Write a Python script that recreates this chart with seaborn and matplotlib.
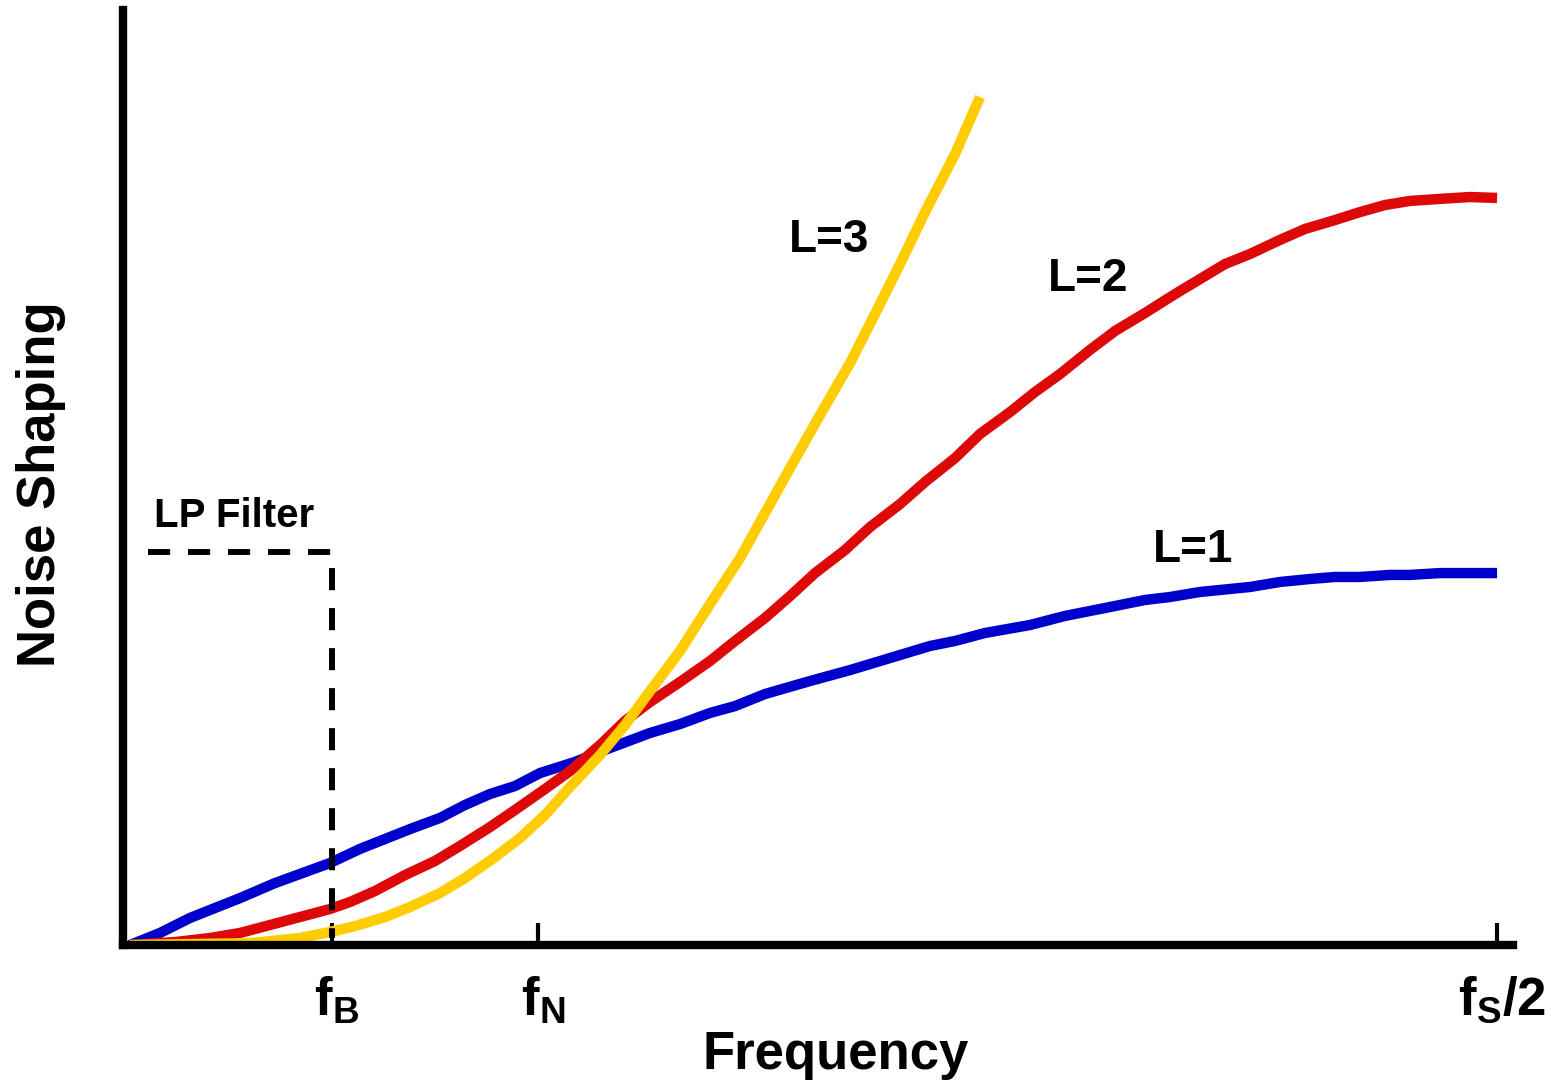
import matplotlib
matplotlib.use("Agg")
import matplotlib.pyplot as plt
import matplotlib.transforms as mtransforms
import seaborn as sns
import numpy as np

# ---------------- data (frequency as fraction of fs, noise-shaping magnitude) -------------
l1_x = [0.00244, 0.01336, 0.02428, 0.04248, 0.05522, 0.07523, 0.08615, 0.10435, 0.11527,
        0.12437, 0.13347, 0.14257, 0.15167, 0.16441, 0.17715, 0.19171, 0.20263, 0.21355,
        0.22265, 0.23357, 0.24995, 0.26450, 0.27906, 0.29362, 0.30272, 0.31364, 0.33002,
        0.34276, 0.35914, 0.37188, 0.38098, 0.39190, 0.41010, 0.42101, 0.43194, 0.44103,
        0.45013, 0.46105, 0.46833, 0.47925, 0.50000]
l1_y = [0.0, 0.065, 0.146, 0.253, 0.334, 0.442, 0.518, 0.625, 0.685,
        0.755, 0.814, 0.857, 0.927, 0.987, 1.062, 1.143, 1.191, 1.251,
        1.288, 1.353, 1.423, 1.482, 1.547, 1.612, 1.639, 1.682, 1.725,
        1.774, 1.822, 1.860, 1.876, 1.903, 1.930, 1.957, 1.973, 1.984,
        1.984, 1.995, 1.995, 2.005, 2.005]

l2_x = [0.00244, 0.01882, 0.03156, 0.04248, 0.05340, 0.06432, 0.07523, 0.08251, 0.09161,
        0.10253, 0.11345, 0.12255, 0.13347, 0.14257, 0.15349, 0.16259, 0.17351, 0.18261,
        0.19171, 0.20263, 0.21355, 0.22265, 0.23357, 0.24267, 0.25177, 0.26268, 0.27178,
        0.28270, 0.29180, 0.30272, 0.31182, 0.32274, 0.33184, 0.34094, 0.35186, 0.36096,
        0.37188, 0.38280, 0.39190, 0.40100, 0.41010, 0.42101, 0.43012, 0.44103, 0.45013,
        0.45923, 0.46833, 0.47925, 0.49017, 0.50000]
l2_y = [0.0, 0.016, 0.038, 0.065, 0.108, 0.151, 0.194, 0.232, 0.291,
        0.377, 0.453, 0.534, 0.636, 0.728, 0.841, 0.938, 1.078, 1.208,
        1.310, 1.418, 1.531, 1.639, 1.763, 1.881, 2.005, 2.129, 2.253,
        2.377, 2.496, 2.625, 2.755, 2.873, 2.981, 3.078, 3.208, 3.310,
        3.407, 3.509, 3.590, 3.671, 3.725, 3.801, 3.860, 3.908, 3.951,
        3.989, 4.011, 4.022, 4.032, 4.027]

l3_x = [0.00244, 0.04612, 0.06432, 0.07523, 0.08433, 0.09525, 0.10435, 0.11527, 0.12437,
        0.13529, 0.14439, 0.15349, 0.16259, 0.17351, 0.18261, 0.19171, 0.20263, 0.21355,
        0.22447, 0.23357, 0.24267, 0.25358, 0.26450, 0.27360, 0.28270, 0.29180, 0.30272,
        0.31182]
l3_y = [0.0, 0.010, 0.038, 0.070, 0.102, 0.151, 0.205, 0.280, 0.361,
        0.474, 0.577, 0.701, 0.852, 1.024, 1.186, 1.369, 1.585, 1.838,
        2.086, 2.329, 2.571, 2.857, 3.137, 3.402, 3.671, 3.951, 4.264,
        4.571]

filter_x = [0.009, 0.0758, 0.0758]
filter_y = [2.119, 2.119, 0.038]

tick_pos = [0.0758, 0.1509, 0.5]
tick_labels = [r"$f_B$", r"$f_N$", r"$f_S/2$"]
curve_labels = ["L=1", "L=2", "L=3"]

# ---------------- style -------------
sns.set_style("white")
plt.rcParams["font.family"] = ["Liberation Sans", "DejaVu Sans"]
plt.rcParams["font.weight"] = "bold"
plt.rcParams["text.color"] = "black"
plt.rcParams["axes.labelcolor"] = "black"
plt.rcParams["xtick.color"] = "black"
plt.rcParams["mathtext.fontset"] = "custom"
plt.rcParams["mathtext.rm"] = "Liberation Sans:bold"
plt.rcParams["mathtext.it"] = "Liberation Sans:bold"
plt.rcParams["mathtext.bf"] = "Liberation Sans:bold"
plt.rcParams["mathtext.default"] = "bf"

fig = plt.figure(figsize=(15.51, 10.82), dpi=100)
ax = fig.add_axes([0.0795, 0.1266, 0.896, 0.8642])

LW = 7.5
common = dict(linewidth=LW, ax=ax, estimator=None, solid_capstyle="butt", solid_joinstyle="miter")
sns.lineplot(x=l1_x, y=l1_y, color="#0000cc", zorder=3, **common)
sns.lineplot(x=l2_x, y=l2_y, color="#dd0808", zorder=4, **common)
sns.lineplot(x=l3_x, y=l3_y, color="#ffcc00", zorder=5, **common)
ax.plot(filter_x, filter_y, color="black", linewidth=4.3, dashes=(3.7, 3.0), zorder=6,
        solid_capstyle="butt", dash_capstyle="butt")

ax.set_xlim(0, 0.5058)
ax.set_ylim(0, 5.0404)

for s in ["top", "right"]:
    ax.spines[s].set_visible(False)
for s in ["left", "bottom"]:
    ax.spines[s].set_linewidth(6)
    ax.spines[s].set_color("black")
    ax.spines[s].set_zorder(7)

ax.set_yticks([])
ax.set_xticks(tick_pos)
ax.set_xticklabels(tick_labels)
ax.tick_params(axis="x", direction="in", length=16, width=3, color="black",
               labelcolor="black", labelsize=38, pad=21, bottom=True)
offset = mtransforms.ScaledTranslation(0.05, -0.01, fig.dpi_scale_trans)
for lab in ax.get_xticklabels():
    lab.set_transform(lab.get_transform() + offset)

ax.set_xlabel("Frequency", fontsize=38, fontweight="bold", color="black")
ax.set_ylabel("Noise Shaping", fontsize=38, fontweight="bold", color="black")
ax.xaxis.set_label_coords(0.5125, -0.091)
ax.yaxis.set_label_coords(-0.0412, 0.493)

ax.text(0.2569, 3.80, curve_labels[2], fontsize=33, fontweight="bold", ha="center", va="center")
ax.text(0.3511, 3.59, curve_labels[1], fontsize=33, fontweight="bold", ha="center", va="center")
ax.text(0.3893, 2.129, curve_labels[0], fontsize=33, fontweight="bold", ha="center", va="center")
ax.text(0.0403, 2.313, "LP Filter", fontsize=29, fontweight="bold", ha="center", va="center")

fig.savefig("out.png", dpi=100, facecolor="white")
